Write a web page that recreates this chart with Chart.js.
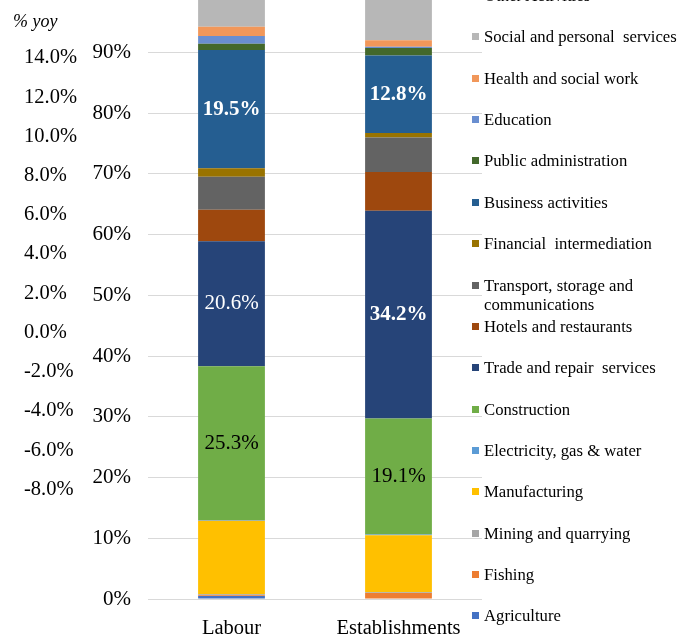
<!DOCTYPE html>
<html>
<head>
<meta charset="utf-8">
<script src="https://cdn.jsdelivr.net/npm/chart.js@4"></script>
<style>
  html, body { margin: 0; padding: 0; background: #fff; overflow: hidden; }
  #wrap { position: relative; width: 683px; height: 635px; overflow: hidden; font-family: 'Liberation Serif', 'Times New Roman', serif; }
  #chart { position: absolute; left: 0; top: -38px; }
  #yoy { position: absolute; left: 13px; top: 11px; font-size: 18px; font-style: italic; color: #000; }
  #legend { position: absolute; left: 472px; top: -14px; width: 211px; }
  .li { height: 41.36px; display: flex; align-items: flex-start; }
  .sw { width: 7px; height: 7px; margin-top: 6px; margin-right: 5px; flex: none; }
  .tx { font-size: 16.7px; line-height: 19px; color: #000; white-space: pre-wrap; width: 199px; }
</style>
</head>
<body>
<div id="wrap">
  <canvas id="chart" width="683" height="673"></canvas>
  <div id="yoy">% yoy</div>
  <div id="legend"></div>
</div>
<script>
// categories and sectors (bottom of stack first)
const categories = ['Labour', 'Establishments'];
const sectors = [
  'Agriculture', 'Fishing', 'Mining and quarrying', 'Manufacturing',
  'Electricity, gas & water', 'Construction', 'Trade and repair  services',
  'Hotels and restaurants', 'Transport, storage and communications',
  'Financial  intermediation', 'Business activities', 'Public administration',
  'Education', 'Health and social work', 'Social and personal  services',
  'Other Activities'
];
const colors = [
  '#4472C4', '#ED7D31', '#A5A5A5', '#FFC000', '#5B9BD5', '#70AD47', '#264478',
  '#9E480E', '#636363', '#997300', '#255E91', '#43682B', '#698ED0', '#F1975A',
  '#B7B7B7', '#FFCD33'
];
// share (%) per sector, one array per category
const labourShare = [0.5, 0.1, 0.2, 12.1, 0.1, 25.3, 20.6, 5.2, 5.4, 1.4, 19.5, 1.0, 1.3, 1.5, 4.5, 1.3];
const estabShare  = [0.1, 0.9, 0.1, 9.4, 0.1, 19.1, 34.2, 6.4, 5.7, 0.7, 12.8, 1.2, 0.2, 1.1, 6.9, 1.1];
// left-over axis of the neighbouring chart
const yoyTicks = [-8, -6, -4, -2, 0, 2, 4, 6, 8, 10, 12, 14];
const shareTicks = [0, 10, 20, 30, 40, 50, 60, 70, 80, 90, 100];

// which segments carry a value label: [sector, category, colour, bold]
const valueLabels = [
  [5, 0, '#000', false], [6, 0, '#fff', false], [10, 0, '#fff', true],
  [5, 1, '#000', false], [6, 1, '#fff', true],  [10, 1, '#fff', true]
];

const FONT = "'Liberation Serif', 'Times New Roman', serif";

const datasets = sectors.map((s, i) => ({
  label: s,
  data: [labourShare[i], estabShare[i]],
  backgroundColor: colors[i],
  borderWidth: 0,
  barPercentage: 0.4,
  categoryPercentage: 1.0
}));

const labelPlugin = {
  id: 'segLabels',
  afterDatasetsDraw(chart) {
    const ctx = chart.ctx;
    ctx.save();
    ctx.textAlign = 'center';
    ctx.textBaseline = 'middle';
    valueLabels.forEach(([d, c, col, bold]) => {
      const el = chart.getDatasetMeta(d).data[c];
      const v = chart.data.datasets[d].data[c];
      ctx.fillStyle = col;
      ctx.font = (bold ? 'bold ' : '') + '21px ' + FONT;
      ctx.fillText(v.toFixed(1) + '%', el.x, (el.y + el.base) / 2);
    });
    ctx.restore();
  }
};

Chart.defaults.font.family = FONT;
Chart.defaults.color = '#000';

new Chart(document.getElementById('chart').getContext('2d'), {
  type: 'bar',
  data: { labels: categories, datasets: datasets },
  options: {
    responsive: false,
    animation: false,
    devicePixelRatio: 1,
    layout: { padding: { top: 0, left: 24, right: 201, bottom: 0 } },
    plugins: { legend: { display: false }, tooltip: { enabled: false } },
    scales: {
      x: {
        stacked: true,
        grid: { display: false },
        border: { display: false },
        ticks: { font: { size: 20.5 }, padding: 9, color: '#000' },
        afterFit(s) { s.height = 36; }
      },
      y: {
        stacked: true,
        position: 'left',
        weight: 0,
        min: 0, max: 100,
        grid: { color: '#D9D9D9', lineWidth: 1, drawTicks: false },
        border: { display: false },
        afterBuildTicks(s) { s.ticks = shareTicks.map(v => ({ value: v })); },
        ticks: { font: { size: 21 }, padding: 17, color: '#000', callback: v => v + '%' },
        afterFit(s) { s.width = 64; }
      },
      yoy: {
        position: 'left',
        weight: 1,
        min: -13.58, max: 17.38,
        grid: { display: false, drawTicks: false },
        border: { display: false },
        afterBuildTicks(s) { s.ticks = yoyTicks.map(v => ({ value: v })); },
        ticks: { font: { size: 20.5 }, crossAlign: 'far', padding: 0, color: '#000', callback: v => v.toFixed(1) + '%' },
        afterFit(s) { s.width = 60; }
      }
    }
  },
  plugins: [labelPlugin]
});

// legend, top of the stack first
const leg = document.getElementById('legend');
for (let i = sectors.length - 1; i >= 0; i--) {
  const li = document.createElement('div');
  li.className = 'li';
  li.innerHTML = '<span class="sw" style="background:' + colors[i] + '"></span><span class="tx"></span>';
  li.querySelector('.tx').textContent = sectors[i];
  leg.appendChild(li);
}
</script>
</body>
</html>
